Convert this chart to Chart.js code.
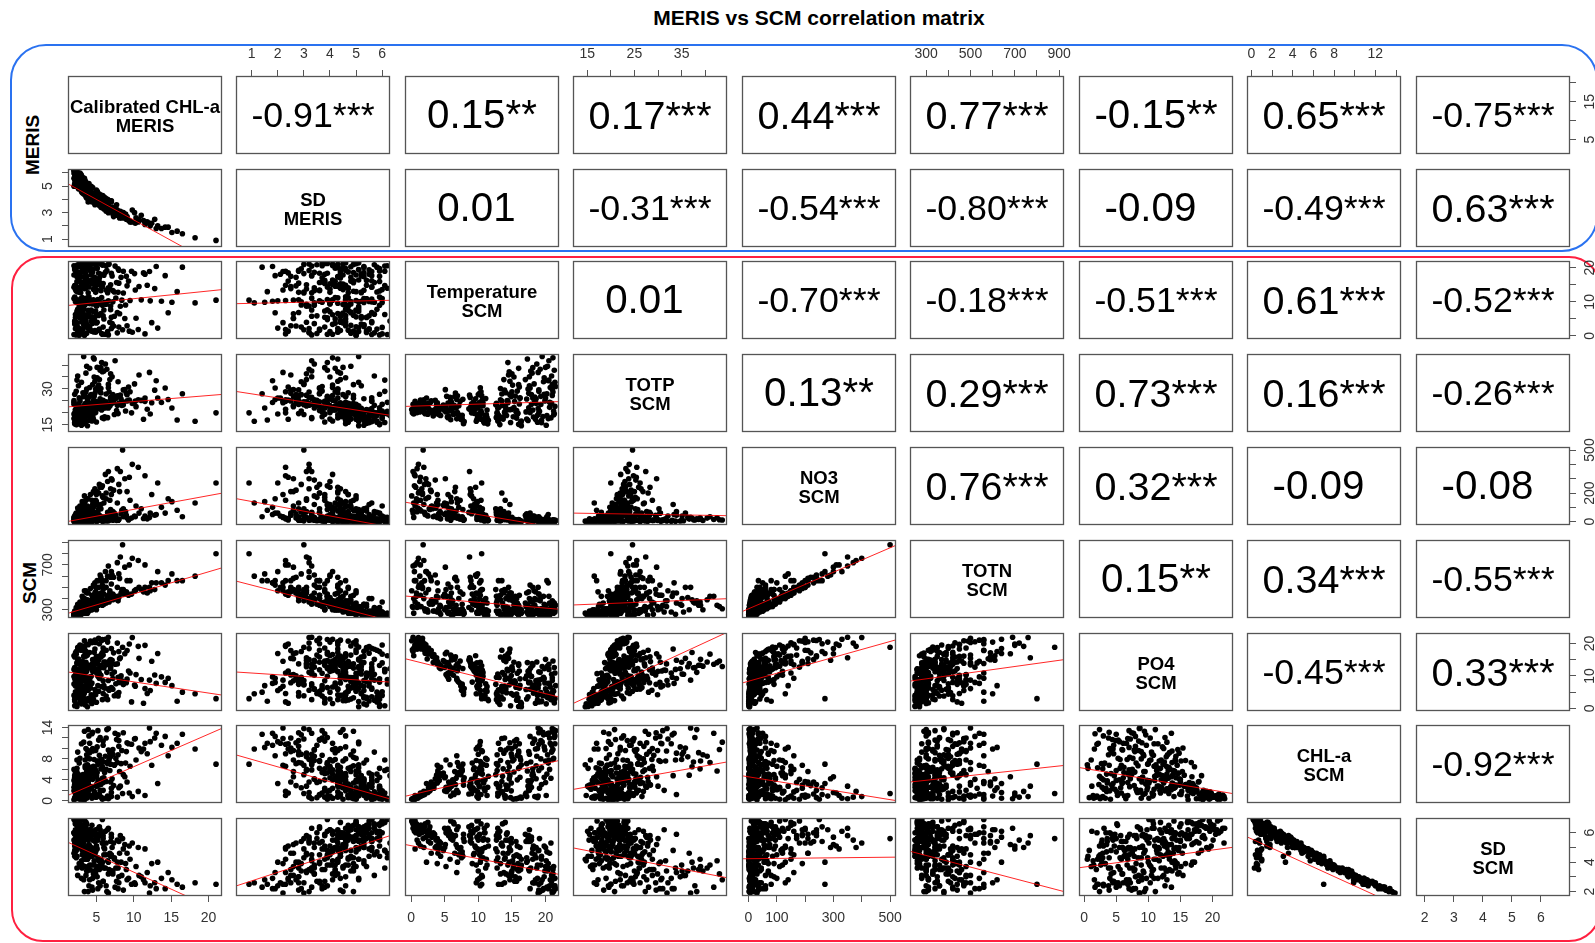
<!DOCTYPE html>
<html>
<head>
<meta charset="utf-8">
<title>MERIS vs SCM correlation matrix</title>
<script src="https://cdn.jsdelivr.net/npm/chart.js@4.4.0/dist/chart.umd.min.js"></script>
<style>
  html, body { margin: 0; padding: 0; background: #fff; }
  body {
    position: relative; width: 1595px; height: 943px; overflow: hidden;
    font-family: "Liberation Sans", Arial, Helvetica, sans-serif; color: #000;
  }
  .title {
    position: absolute; left: 0; width: 1638px; top: 6px; line-height: 24px;
    text-align: center; font-weight: bold; font-size: 21px;
  }
  .frame { position: absolute; box-sizing: border-box; border-style: solid; border-width: 2.5px; }
  .side {
    position: absolute; font-weight: bold; font-size: 19px; white-space: nowrap;
    transform: translate(-50%, -50%) rotate(-90deg);
  }
  canvas { position: absolute; }
  .cell {
    position: absolute; display: flex; align-items: center; justify-content: center;
    text-align: center; white-space: pre;
  }
  .diag { font-weight: bold; font-size: 18.5px; line-height: 19px; padding-top: 2px; box-sizing: border-box; }
</style>
</head>
<body>
<div class="title">MERIS vs SCM correlation matrix</div>
<div class="frame" style="left:10px;top:44px;width:1588px;height:208px;border-color:#2a72f0;border-radius:36px;"></div>
<div class="frame" style="left:11px;top:256px;width:1590px;height:686px;border-color:#ff2040;border-radius:32px;"></div>
<div class="side" style="left:33px;top:145px;">MERIS</div>
<div class="side" style="left:30px;top:583px;">SCM</div>
<script>
// ============================================
// DATA - one value per sampling, same order in every variable
// ============================================

const chlMeris = [
  2.3, 3.1, 4.6, 6.2, 8.5, 2.6, 3.8, 5.4, 7.1, 9.8,
  2.1, 3.4, 4.1, 11.5, 6.8, 2.9, 5.0, 13.2, 2.4, 7.8,
  3.6, 4.8, 2.0, 9.1, 5.9, 3.2, 12.4, 2.7, 4.3, 6.5,
  2.2, 3.5, 4.9, 7.4, 2.8, 5.6, 10.3, 3.0, 4.4, 6.0,
  2.5, 8.8, 3.9, 14.6, 2.3, 5.2, 3.3, 7.0, 2.6, 4.7,
  21.0, 2.4, 3.7, 5.8, 8.2, 11.0, 2.9, 4.5, 6.6, 3.1,
  18.2, 5.1, 2.2, 7.6, 3.5, 9.5, 4.0, 2.7, 6.1, 13.7,
  3.3, 5.5, 2.0, 8.9, 4.2, 2.3, 3.6, 5.3, 7.9, 2.7,
  4.6, 10.7, 3.0, 6.3, 2.1, 4.1, 8.6, 3.4, 5.9, 12.8,
  2.5, 4.8, 3.8, 7.2, 2.9, 5.7, 15.8, 3.2, 4.4, 9.3,
  2.2, 6.9, 3.9, 5.0, 11.8, 2.4, 3.5, 5.1, 7.5, 2.8,
  4.3, 10.1, 3.0, 6.4, 2.2, 4.9, 8.3, 3.3, 5.8, 12.1,
  2.6, 4.0, 7.0, 3.7, 9.7, 2.0, 5.4, 4.5, 6.7, 14.2,
  3.1, 2.5, 8.0, 4.7, 3.9, 11.3, 5.2, 2.3, 6.0, 16.5,
  2.5, 3.9, 5.7, 2.1, 4.4, 7.3, 3.0, 2.8, 6.0, 3.3,
  2.4, 4.0, 8.1, 3.7, 2.2, 5.3, 2.9, 6.9, 3.4, 4.7,
  2.6, 9.4, 3.6, 5.0, 2.6, 4.1, 3.2, 6.3, 2.3, 5.0,
  3.8, 7.2, 2.9, 4.6, 3.4, 12.2, 2.1, 5.6, 2.4, 3.7,
  5.4, 2.8, 4.2, 6.8, 3.1, 2.0, 4.9, 8.0, 3.5, 2.6,
  5.8, 3.9, 10.2, 2.3, 4.5, 6.5, 3.3, 7.7, 2.5, 3.8,
  5.5, 2.9, 4.1, 6.2, 2.1, 3.4, 4.8, 7.9, 2.7, 3.6,
  5.9, 2.3, 4.4, 9.0, 3.1, 5.1, 2.0, 6.6, 3.5, 11.5,
  2.8, 4.2, 3.3, 6.6, 2.3, 5.1, 3.7, 8.0, 2.6, 4.5,
  3.0, 10.6, 2.1, 5.8, 3.5, 4.9, 2.4, 7.0, 2.7, 4.0,
  3.2, 5.9, 2.2, 4.6, 3.6, 7.8, 2.5, 5.3, 3.1, 4.3,
  2.5, 3.6, 5.2, 2.9, 4.3, 6.9, 2.2, 3.9, 8.4, 3.2,
  5.7, 2.6, 4.8, 3.5, 15.1, 2.7, 4.0, 3.1, 5.6, 2.2,
  3.8, 6.6, 2.9, 4.7, 3.4, 9.1, 2.4, 5.0, 3.6, 7.4,
  2.8, 4.4, 2.6, 4.1, 3.0, 5.6, 2.2, 3.7, 6.3, 2.8,
  4.6, 8.6, 3.4, 2.4, 5.3, 3.9, 7.1, 2.1, 4.5, 13.0
];
const sdMeris = [
  5.9, 4.8, 4.3, 4.1, 3.0, 5.1, 4.8, 3.6, 3.4, 3.2,
  5.6, 5.0, 5.0, 2.3, 3.1, 5.4, 4.5, 2.0, 5.3, 3.2,
  4.4, 4.4, 6.2, 2.5, 3.8, 5.5, 2.2, 5.0, 4.5, 4.0,
  5.4, 4.9, 3.8, 3.3, 5.1, 4.3, 2.6, 4.8, 4.4, 3.3,
  5.7, 2.6, 4.7, 1.9, 5.5, 4.1, 4.6, 3.8, 5.6, 3.9,
  0.9, 5.3, 4.8, 3.4, 3.1, 2.8, 5.4, 4.0, 3.6, 4.7,
  1.1, 4.6, 5.6, 3.3, 4.5, 2.3, 4.6, 5.1, 3.7, 1.8,
  4.6, 4.0, 6.0, 2.9, 4.1, 5.9, 4.4, 4.1, 2.8, 5.6,
  4.0, 2.5, 4.9, 3.6, 6.1, 4.2, 3.0, 4.6, 3.8, 2.5,
  5.2, 4.3, 5.1, 3.4, 4.9, 3.9, 1.6, 4.7, 4.4, 2.4,
  6.0, 3.1, 4.7, 3.8, 2.3, 5.3, 4.9, 4.6, 3.3, 5.0,
  4.5, 3.0, 5.3, 3.2, 5.5, 4.3, 2.7, 5.1, 4.3, 2.2,
  5.2, 4.6, 3.9, 4.8, 2.3, 6.2, 4.4, 4.4, 3.2, 1.9,
  4.7, 5.7, 2.8, 4.3, 4.3, 2.4, 3.7, 5.9, 3.3, 1.4,
  5.4, 4.3, 3.5, 5.2, 4.9, 2.7, 4.6, 6.0, 4.2, 4.4,
  5.1, 5.2, 2.6, 4.1, 5.5, 3.6, 5.0, 3.9, 5.6, 3.9,
  4.8, 2.4, 5.3, 4.6, 5.2, 4.0, 5.6, 3.1, 5.0, 4.7,
  4.3, 2.9, 5.7, 4.1, 4.7, 2.0, 5.9, 3.4, 5.3, 4.2,
  3.7, 5.8, 4.8, 3.1, 4.5, 5.6, 4.0, 2.8, 5.4, 4.9,
  4.3, 3.8, 2.2, 6.2, 4.9, 3.3, 4.6, 3.6, 5.2, 4.2,
  3.9, 5.9, 4.1, 3.4, 5.5, 4.9, 3.7, 2.9, 5.3, 4.4,
  3.5, 6.1, 3.8, 2.5, 5.6, 4.5, 5.0, 3.0, 5.1, 2.1,
  5.7, 4.7, 5.3, 3.3, 6.0, 4.4, 5.0, 2.9, 5.1, 4.2,
  5.8, 2.3, 6.3, 3.9, 4.6, 4.3, 5.6, 3.2, 5.4, 4.5,
  5.0, 3.5, 6.1, 4.0, 5.2, 2.8, 5.8, 4.4, 4.6, 5.0,
  5.5, 4.3, 3.9, 5.9, 4.6, 3.2, 5.4, 5.1, 2.6, 4.8,
  4.2, 6.0, 3.6, 5.3, 1.5, 5.0, 4.4, 5.7, 3.6, 5.4,
  4.9, 3.4, 5.2, 4.0, 4.7, 2.7, 5.9, 4.5, 4.2, 3.0,
  5.6, 4.1, 5.6, 4.6, 5.1, 3.8, 5.8, 4.3, 3.7, 5.3,
  4.1, 2.8, 4.8, 6.1, 3.6, 4.5, 3.3, 5.9, 4.4, 1.8
];
const temperature = [
  0.3, 0.8, 1.2, 0.5, 1.8, 2.4, 3.1, 2.0, 3.6, 1.1,
  4.2, 0.1, 2.7, 0.6, 4.0, 1.5, 3.8, 2.3, 3.3, 0.9,
  4.4, 1.6, 0.4, 3.0, 2.6, 1.9, 3.9, 0.2, 4.3, 1.3,
  5.4, 6.1, 7.3, 5.8, 7.9, 6.6, 5.2, 7.0, 5.6, 7.6,
  6.4, 5.1, 7.5, 6.8, 5.9, 6.2, 7.8, 5.5, 6.9, 5.3,
  10.5, 9.8, 10.1, 9.0, 8.7, 10.6, 10.9, 9.4, 10.3, 11.3,
  9.7, 8.9, 10.0, 11.1, 9.2, 10.4, 11.5, 8.6, 9.9, 10.2,
  10.7, 9.6, 11.0, 9.1, 10.5, 13.2, 14.0, 15.1, 12.8, 16.2,
  13.7, 14.5, 15.6, 13.5, 14.8, 16.0, 12.6, 14.2, 15.4, 13.9,
  12.9, 14.7, 16.4, 13.3, 15.9, 14.4, 13.0, 14.1, 15.3, 16.1,
  13.6, 15.0, 12.7, 16.3, 14.9, 17.4, 18.6, 19.8, 20.5, 21.2,
  17.9, 18.3, 20.1, 19.2, 18.1, 21.0, 17.2, 19.5, 20.8, 18.9,
  17.6, 21.4, 18.4, 20.3, 19.0, 20.6, 17.0, 19.6, 21.1, 17.7,
  18.8, 20.9, 19.3, 17.3, 20.0, 18.5, 21.5, 19.1, 17.8, 20.2,
  1.0, 2.2, 0.7, 3.5, 1.4, 2.9, 4.1, 0.6, 5.0, 6.3,
  7.2, 5.7, 6.5, 3.4, 2.1, 1.7, 5.6, 7.7, 0.4, 4.8,
  6.8, 1.4, 2.8, 6.0, 10.2, 9.5, 10.8, 9.3, 10.4, 8.8,
  11.2, 10.0, 9.9, 10.6, 8.9, 10.3, 11.4, 9.7, 13.4, 14.6,
  15.8, 12.9, 16.1, 13.8, 15.2, 14.3, 12.8, 15.5, 16.3, 13.1,
  14.6, 15.8, 13.5, 14.0, 16.0, 12.7, 14.9, 15.7, 18.2, 19.9,
  21.3, 17.5, 20.7, 18.7, 19.4, 21.0, 17.1, 19.7, 20.4, 18.0,
  20.9, 19.0, 21.3, 17.5, 18.9, 20.0, 17.9, 21.0, 19.4, 18.1,
  0.9, 1.7, 3.2, 0.3, 2.5, 4.0, 0.8, 2.6, 1.3, 3.7,
  2.0, 1.9, 4.4, 0.5, 3.0, 1.1, 3.9, 2.2, 5.5, 6.7,
  7.4, 5.9, 6.3, 7.1, 5.2, 6.9, 7.8, 6.0, 5.0, 7.6,
  10.1, 9.6, 10.7, 9.0, 10.4, 8.8, 10.9, 10.0, 10.5, 9.4,
  11.3, 9.8, 10.2, 11.0, 9.9, 13.0, 14.4, 15.7, 13.3, 14.9,
  16.2, 14.1, 12.7, 15.3, 13.9, 14.7, 16.0, 13.6, 15.0, 12.9,
  14.4, 16.4, 17.7, 19.3, 21.4, 18.1, 20.2, 17.4, 20.6, 18.6,
  21.1, 19.0, 17.2, 20.5, 18.4, 21.2, 17.6, 19.8, 18.8, 20.4
];
const totp = [
  20.5, 21.8, 23.4, 22.1, 24.6, 19.8, 21.0, 22.7, 25.3, 23.9,
  19.2, 21.4, 20.2, 24.8, 22.9, 20.9, 23.6, 26.2, 18.7, 23.2,
  21.6, 22.4, 19.5, 25.0, 21.9, 20.6, 24.2, 20.0, 22.3, 23.0,
  18.3, 21.5, 24.8, 26.5, 16.4, 28.3, 22.6, 19.4, 20.7, 17.6,
  23.2, 29.7, 18.8, 25.6, 17.1, 22.0, 15.5, 24.1, 20.1, 26.9,
  20.0, 17.2, 19.6, 23.8, 27.4, 25.2, 15.8, 21.1, 30.5, 18.0,
  16.5, 22.5, 19.0, 26.0, 20.3, 28.8, 16.9, 21.7, 18.4, 24.3,
  23.0, 25.9, 17.6, 20.8, 27.2, 15.1, 22.8, 31.6, 19.7, 26.3,
  17.4, 35.8, 20.5, 27.9, 16.0, 38.6, 23.4, 18.9, 24.7, 29.5,
  21.9, 33.2, 14.6, 25.5, 19.8, 41.0, 17.0, 28.4, 22.2, 30.8,
  18.2, 36.3, 24.0, 16.2, 21.5, 16.8, 23.9, 34.7, 41.8, 19.1,
  27.6, 32.1, 14.8, 38.2, 21.2, 29.9, 25.8, 43.6, 17.9, 36.9,
  31.3, 22.7, 26.6, 39.5, 20.0, 24.4, 33.9, 18.5, 28.7, 30.4,
  16.1, 35.4, 23.5, 42.5, 26.2, 17.3, 31.0, 20.7, 37.5, 28.0,
  21.2, 22.0, 23.1, 19.9, 21.7, 24.3, 20.4, 20.8, 22.8, 19.3,
  17.8, 21.3, 26.8, 21.1, 19.6, 22.6, 18.6, 25.7, 20.3, 23.3,
  17.5, 25.4, 20.7, 24.4, 18.7, 22.8, 16.3, 24.6, 20.9, 21.4,
  19.2, 27.6, 17.9, 25.3, 22.2, 19.5, 15.4, 23.5, 17.7, 21.3,
  29.1, 16.6, 23.7, 33.9, 18.4, 25.1, 20.1, 27.0, 15.7, 22.4,
  37.2, 19.4, 24.9, 20.6, 31.8, 18.0, 26.8, 21.0, 18.3, 25.0,
  37.8, 22.1, 30.6, 40.4, 15.9, 27.3, 20.4, 33.0, 17.6, 36.6,
  24.0, 29.0, 19.6, 28.2, 21.8, 39.0, 23.6, 31.9, 16.9, 26.2,
  20.1, 22.5, 20.5, 23.6, 19.4, 22.2, 21.2, 24.0, 20.4, 21.8,
  20.0, 25.5, 18.9, 22.9, 21.0, 22.0, 19.6, 23.8, 18.0, 21.9,
  17.3, 25.2, 19.8, 23.0, 20.4, 27.1, 16.1, 22.8, 20.9, 19.0,
  18.2, 21.8, 24.2, 20.0, 17.3, 26.4, 16.7, 22.9, 23.1, 19.8,
  21.2, 23.6, 28.2, 18.6, 22.0, 19.0, 24.2, 17.8, 30.2, 21.4,
  26.1, 22.0, 18.1, 35.0, 20.2, 27.6, 15.2, 23.1, 28.8, 19.3,
  24.9, 16.6, 20.1, 26.9, 32.8, 38.9, 18.9, 30.0, 22.3, 25.9,
  43.0, 29.6, 17.4, 33.7, 24.6, 20.8, 35.1, 27.8, 19.0, 33.4
];
const no3 = [
  60, 140, 210, 330, 500, 45, 110, 260, 290, 400,
  25, 180, 90, 320, 150, 75, 130, 270, 35, 370,
  60, 230, 30, 210, 170, 120, 190, 80, 70, 280,
  20, 80, 150, 60, 15, 240, 110, 40, 95, 30,
  55, 300, 25, 160, 10, 70, 20, 190, 35, 125,
  270, 15, 40, 180, 350, 90, 5, 120, 60, 20,
  130, 210, 25, 45, 85, 150, 10, 65, 30, 100,
  50, 240, 8, 70, 35, 5, 150, 20, 10, 3,
  40, 60, 8, 200, 2, 15, 90, 25, 5, 45,
  30, 120, 4, 10, 3, 35, 80, 55, 6, 12,
  18, 30, 70, 2, 20, 3, 10, 5, 15, 2,
  25, 40, 1, 20, 5, 8, 55, 12, 3, 30,
  15, 4, 35, 8, 25, 2, 45, 6, 10, 60,
  3, 7, 18, 28, 4, 22, 9, 1, 14, 35,
  95, 160, 240, 40, 150, 220, 55, 110, 130, 45,
  20, 65, 210, 100, 50, 200, 30, 85, 130, 115,
  25, 310, 85, 140, 30, 95, 12, 160, 40, 190,
  15, 70, 22, 55, 110, 60, 6, 120, 8, 30,
  12, 20, 5, 70, 3, 25, 50, 15, 2, 40,
  25, 4, 35, 14, 7, 65, 10, 8, 2, 6,
  12, 20, 4, 25, 1, 5, 30, 10, 3, 18,
  7, 9, 2, 45, 5, 20, 11, 6, 1, 40,
  70, 190, 90, 350, 40, 120, 160, 260, 85, 95,
  65, 380, 20, 250, 105, 200, 30, 300, 25, 75,
  18, 170, 30, 100, 60, 130, 10, 90, 50, 35,
  20, 75, 40, 55, 12, 230, 8, 45, 80, 100,
  25, 35, 65, 15, 140, 15, 40, 3, 90, 20,
  5, 30, 50, 10, 35, 25, 2, 60, 8, 45,
  12, 1, 4, 8, 3, 28, 1, 15, 5, 10,
  14, 35, 6, 4, 20, 2, 40, 3, 9, 50
];
const totn = [
  320, 420, 520, 640, 880, 300, 390, 560, 610, 760,
  280, 470, 360, 700, 470, 330, 420, 640, 290, 720,
  330, 540, 270, 560, 480, 400, 540, 330, 340, 600,
  280, 350, 460, 420, 270, 590, 480, 300, 370, 350,
  310, 680, 300, 560, 260, 380, 290, 530, 290, 420,
  800, 270, 310, 520, 770, 480, 260, 410, 430, 280,
  600, 560, 280, 400, 350, 560, 290, 320, 360, 540,
  310, 610, 250, 440, 330, 260, 470, 380, 380, 280,
  330, 500, 290, 560, 250, 340, 480, 300, 350, 480,
  280, 450, 270, 390, 270, 420, 560, 330, 310, 430,
  260, 410, 360, 300, 450, 260, 290, 350, 420, 270,
  320, 470, 260, 380, 250, 330, 450, 310, 340, 500,
  280, 300, 400, 300, 440, 250, 360, 310, 370, 520,
  270, 280, 410, 340, 300, 460, 340, 260, 370, 560,
  350, 450, 560, 290, 430, 590, 310, 370, 440, 300,
  270, 330, 580, 380, 290, 500, 280, 440, 400, 420,
  270, 700, 350, 450, 280, 380, 270, 500, 290, 500,
  300, 440, 270, 350, 380, 470, 250, 450, 260, 300,
  360, 270, 310, 450, 280, 260, 340, 420, 270, 290,
  390, 300, 470, 260, 330, 420, 300, 400, 260, 300,
  360, 270, 310, 390, 250, 290, 330, 420, 260, 300,
  350, 260, 310, 460, 270, 340, 250, 380, 280, 500,
  320, 490, 350, 690, 280, 410, 450, 620, 330, 370,
  310, 740, 260, 560, 380, 500, 280, 640, 270, 340,
  280, 500, 260, 400, 320, 500, 260, 390, 300, 310,
  270, 340, 380, 300, 300, 590, 260, 330, 480, 370,
  360, 280, 400, 280, 620, 270, 320, 270, 430, 260,
  300, 400, 290, 340, 300, 450, 250, 360, 300, 420,
  270, 300, 260, 310, 280, 370, 250, 300, 360, 270,
  330, 440, 280, 260, 340, 300, 400, 250, 310, 540
];
const po4 = [
  17.5, 19.2, 20.5, 21.3, 18.8, 15.2, 16.4, 19.9, 14.8, 21.8,
  12.6, 20.8, 17.2, 19.4, 13.9, 18.3, 15.6, 16.9, 14.1, 20.1,
  13.2, 21.0, 16.2, 17.8, 18.6, 19.0, 14.5, 18.0, 12.9, 20.4,
  9.8, 12.4, 14.6, 11.2, 6.1, 15.9, 10.4, 8.3, 13.5, 7.0,
  15.1, 16.8, 5.6, 9.3, 10.7, 12.0, 4.3, 14.0, 11.6, 17.3,
  3.0, 6.8, 9.5, 12.7, 15.6, 8.9, 3.1, 11.4, 14.2, 5.2,
  4.5, 13.8, 10.1, 7.6, 12.1, 10.9, 2.4, 14.9, 6.2, 9.7,
  11.0, 16.2, 4.0, 8.1, 13.1, 1.2, 16.1, 11.7, 3.8, 9.1,
  2.9, 15.4, 6.5, 17.9, 0.8, 13.3, 7.4, 4.8, 8.5, 10.3,
  10.6, 18.3, 0.5, 5.9, 3.3, 16.7, 2.2, 14.4, 7.8, 11.5,
  5.1, 12.8, 9.6, 1.9, 4.6, 3.6, 8.4, 12.2, 13.6, 5.3,
  9.9, 7.2, 1.4, 11.1, 6.9, 4.2, 10.0, 12.9, 2.7, 8.7,
  11.8, 3.0, 6.4, 13.0, 2.0, 7.5, 9.2, 3.9, 5.6, 8.0,
  2.6, 10.5, 4.9, 14.1, 6.0, 1.6, 7.0, 4.4, 12.5, 5.0,
  18.7, 19.6, 20.9, 15.8, 20.2, 17.1, 13.6, 19.5, 14.3, 10.2,
  7.9, 12.9, 15.3, 16.6, 17.0, 21.6, 9.0, 12.3, 18.5, 14.7,
  8.8, 19.8, 17.6, 16.0, 7.1, 12.5, 3.6, 13.4, 10.8, 14.1,
  5.8, 9.2, 8.7, 11.7, 13.0, 5.5, 2.8, 10.2, 3.5, 7.2,
  10.8, 2.0, 6.2, 14.8, 4.1, 12.0, 5.0, 8.0, 1.1, 9.5,
  17.2, 3.0, 6.8, 8.9, 13.7, 2.7, 10.1, 4.4, 4.7, 7.8,
  12.6, 8.1, 6.6, 14.3, 2.3, 9.4, 5.8, 9.6, 3.2, 13.8,
  4.6, 11.3, 1.7, 7.9, 6.3, 15.1, 9.8, 8.6, 2.1, 6.1,
  18.2, 20.7, 16.0, 21.9, 16.7, 14.0, 19.7, 17.5, 18.9, 15.0,
  17.9, 19.1, 12.2, 21.2, 16.8, 20.3, 13.7, 18.4, 10.9, 13.1,
  6.9, 16.4, 11.9, 12.8, 14.2, 13.7, 5.0, 14.9, 12.6, 7.5,
  7.8, 11.3, 9.9, 13.2, 4.2, 15.0, 3.4, 12.4, 8.5, 13.6,
  6.7, 14.0, 11.9, 5.5, 7.0, 5.7, 9.3, 2.5, 15.8, 8.2,
  7.1, 6.0, 4.5, 14.2, 6.8, 9.0, 0.6, 11.0, 12.4, 3.9,
  11.6, 1.5, 5.9, 8.9, 10.9, 13.3, 3.5, 11.4, 3.8, 8.6,
  14.6, 7.4, 2.9, 12.0, 5.3, 2.4, 10.6, 9.1, 4.0, 7.7
];
const chlScm = [
  0.4, 0.6, 0.9, 0.5, 1.4, 1.8, 2.6, 1.2, 4.2, 0.8,
  3.9, 0.3, 2.2, 1.0, 5.8, 1.1, 4.9, 3.3, 2.9, 0.7,
  6.4, 1.3, 0.2, 3.6, 2.0, 1.5, 6.8, 0.4, 5.1, 0.9,
  2.1, 3.4, 5.2, 6.9, 4.4, 3.1, 7.8, 1.6, 2.7, 5.9,
  1.2, 4.6, 6.2, 8.6, 0.9, 4.0, 3.0, 2.4, 5.0, 1.8,
  7.0, 3.5, 5.6, 4.1, 2.8, 9.4, 2.2, 6.3, 7.5, 1.0,
  9.9, 3.3, 0.5, 8.1, 2.5, 6.6, 4.7, 1.3, 5.4, 10.6,
  3.9, 2.0, 1.9, 7.2, 5.9, 2.8, 0.9, 7.6, 8.8, 4.5,
  6.1, 10.1, 0.4, 3.7, 0.6, 9.2, 5.0, 2.2, 11.4, 12.0,
  1.5, 4.8, 6.9, 9.8, 0.5, 7.3, 11.0, 3.0, 5.5, 10.9,
  1.7, 8.4, 3.2, 0.7, 9.0, 3.8, 6.7, 10.3, 12.9, 8.1,
  2.6, 11.8, 1.0, 13.6, 5.3, 9.6, 7.1, 11.2, 4.3, 13.9,
  2.0, 12.4, 0.8, 8.8, 10.8, 6.0, 1.2, 13.1, 7.9, 12.3,
  0.6, 9.3, 11.5, 5.7, 3.5, 9.9, 13.4, 2.4, 7.4, 12.7,
  0.5, 1.7, 0.6, 3.1, 0.8, 2.9, 4.6, 0.3, 4.4, 3.8,
  5.5, 2.3, 5.6, 2.4, 1.4, 1.1, 3.6, 7.0, 0.2, 5.3,
  2.0, 1.5, 1.9, 2.8, 2.7, 4.4, 3.4, 6.0, 1.2, 3.0,
  6.8, 8.9, 1.7, 5.1, 2.3, 11.3, 2.6, 7.7, 1.8, 4.2,
  8.7, 0.9, 6.4, 9.1, 0.3, 2.6, 5.8, 10.4, 7.8, 1.4,
  6.5, 4.0, 11.9, 0.5, 9.5, 7.1, 3.4, 11.7, 4.8, 9.7,
  12.1, 2.2, 11.0, 8.5, 3.1, 13.3, 1.5, 12.6, 7.2, 4.9,
  10.6, 5.8, 12.8, 9.4, 0.9, 7.6, 3.9, 13.8, 6.3, 11.0,
  0.6, 1.0, 2.7, 0.4, 1.6, 5.4, 0.5, 2.5, 0.9, 4.1,
  1.3, 1.8, 4.8, 0.3, 2.3, 0.7, 3.4, 1.6, 2.2, 4.3,
  5.0, 3.5, 1.5, 6.6, 2.6, 7.3, 3.9, 3.0, 1.9, 5.7,
  2.9, 4.9, 7.0, 1.4, 5.2, 3.6, 2.4, 3.8, 9.6, 2.1,
  7.9, 0.8, 6.2, 4.0, 10.2, 2.5, 5.6, 0.4, 7.7, 1.9,
  8.3, 9.7, 3.3, 7.9, 1.0, 11.1, 6.2, 4.7, 10.0, 6.8,
  2.8, 0.5, 3.3, 8.0, 10.9, 6.1, 5.1, 2.8, 12.0, 4.2,
  9.8, 13.0, 0.8, 7.8, 11.6, 13.6, 8.9, 4.5, 10.0, 12.9
];
const sdScm = [
  6.6, 6.3, 5.9, 6.1, 5.6, 6.0, 5.7, 6.4, 5.0, 5.3,
  5.4, 6.8, 6.2, 4.9, 4.6, 6.5, 5.1, 4.0, 6.0, 5.5,
  4.4, 6.0, 6.9, 4.6, 5.8, 6.3, 3.9, 6.7, 5.0, 6.2,
  6.2, 5.6, 4.9, 4.2, 5.4, 5.8, 3.7, 6.4, 6.0, 4.5,
  6.6, 5.2, 4.3, 3.3, 6.8, 5.5, 5.9, 5.9, 5.0, 6.1,
  2.5, 5.7, 4.8, 5.3, 5.8, 3.0, 6.3, 4.6, 4.0, 6.5,
  2.6, 5.6, 6.9, 3.6, 6.0, 4.2, 5.1, 6.4, 4.9, 2.9,
  5.5, 6.2, 6.0, 3.9, 4.7, 6.1, 6.7, 4.1, 3.6, 5.0,
  4.6, 3.1, 5.4, 5.3, 4.8, 3.5, 4.9, 5.9, 2.7, 2.6,
  6.3, 4.8, 4.2, 3.2, 3.9, 3.8, 2.5, 5.5, 4.4, 2.9,
  6.6, 3.4, 5.8, 3.5, 3.3, 5.4, 4.3, 3.0, 2.3, 3.7,
  5.7, 2.6, 4.1, 2.0, 4.9, 3.2, 4.0, 2.8, 5.3, 1.9,
  6.2, 2.4, 4.5, 3.4, 2.5, 4.6, 5.9, 2.1, 3.5, 2.2,
  3.8, 3.1, 2.6, 4.1, 5.0, 2.8, 2.2, 5.6, 3.6, 2.3,
  6.4, 6.1, 6.0, 5.9, 6.5, 5.3, 5.2, 6.8, 5.0, 5.7,
  4.9, 6.1, 4.6, 5.9, 6.6, 6.3, 5.8, 4.4, 6.9, 4.8,
  6.2, 5.1, 6.4, 5.6, 5.9, 5.1, 5.6, 4.5, 6.6, 5.8,
  4.2, 3.4, 6.3, 4.9, 6.1, 2.4, 5.5, 3.8, 5.2, 5.0,
  3.5, 6.0, 4.4, 3.3, 3.6, 6.0, 4.7, 3.0, 3.7, 5.7,
  4.0, 5.1, 2.5, 4.3, 3.4, 4.1, 5.3, 2.7, 5.1, 3.4,
  2.4, 5.8, 2.8, 3.6, 4.4, 2.0, 5.4, 2.2, 3.9, 4.6,
  2.7, 4.8, 2.3, 3.5, 4.8, 3.7, 5.5, 1.9, 4.2, 2.6,
  6.5, 6.2, 5.8, 6.3, 6.7, 4.9, 6.6, 5.4, 6.4, 5.5,
  6.1, 5.0, 5.3, 6.9, 5.9, 6.2, 5.6, 5.7, 6.3, 5.2,
  5.0, 5.6, 6.7, 4.5, 6.0, 4.0, 5.6, 5.9, 6.3, 4.7,
  5.8, 5.0, 4.3, 6.5, 4.8, 5.4, 6.0, 5.5, 3.1, 6.2,
  3.8, 6.8, 4.5, 5.0, 2.8, 5.8, 4.6, 4.5, 3.9, 5.6,
  3.6, 3.2, 5.5, 3.8, 4.2, 2.8, 4.4, 5.1, 3.1, 4.3,
  5.5, 3.8, 5.4, 3.8, 2.9, 4.2, 4.7, 5.6, 2.4, 5.0,
  3.2, 2.1, 4.3, 3.6, 2.6, 2.0, 3.4, 5.1, 2.9, 2.2
];

const series = [chlMeris, sdMeris, temperature, totp, no3, totn, po4, chlScm, sdScm];

const varLabels = [
  'Calibrated CHL-a\nMERIS', 'SD\nMERIS', 'Temperature\nSCM', 'TOTP\nSCM', 'NO3\nSCM',
  'TOTN\nSCM', 'PO4\nSCM', 'CHL-a\nSCM', 'SD\nSCM'
];

// axis limits (R pads the data range by 4%)
const axisRange = [
  [1.2, 21.8], [0.4, 6.3], [-0.9, 22], [12, 44.6], [-23, 521],
  [227, 922], [-0.8, 23.2], [-0.42, 14.48], [1.7, 7.0]
];
const tickValues = [
  [5, 10, 15, 20], [1, 2, 3, 4, 5, 6], [0, 5, 10, 15, 20], [15, 20, 25, 30, 35, 40],
  [0, 100, 200, 300, 400, 500], [300, 400, 500, 600, 700, 800, 900], [0, 5, 10, 15, 20],
  [0, 2, 4, 6, 8, 10, 12, 14], [2, 3, 4, 5, 6]
];
// labels that survive R's overlap check, horizontal and vertical axes
const xTickLabels = [
  [5, 10, 15, 20], [1, 2, 3, 4, 5, 6], [0, 5, 10, 15, 20], [15, 25, 35],
  [0, 100, 300, 500], [300, 500, 700, 900], [0, 5, 10, 15, 20], [0, 2, 4, 6, 8, 12], [2, 3, 4, 5, 6]
];
const yTickLabels = [
  [5, 15], [1, 3, 5], [0, 10, 20], [15, 30], [0, 200, 500], [300, 700], [0, 10, 20], [0, 4, 8, 14], [2, 4, 6]
];

// upper triangle, row by row
const corrRows = [
  ['-0.91***', '0.15**', '0.17***', '0.44***', '0.77***', '-0.15**', '0.65***', '-0.75***'],
  ['0.01', '-0.31***', '-0.54***', '-0.80***', '-0.09', '-0.49***', '0.63***'],
  ['0.01', '-0.70***', '-0.18***', '-0.51***', '0.61***', '-0.52***'],
  ['0.13**', '0.29***', '0.73***', '0.16***', '-0.26***'],
  ['0.76***', '0.32***', '-0.09', '-0.08'],
  ['0.15**', '0.34***', '-0.55***'],
  ['-0.45***', '0.33***'],
  ['-0.92***']
];

// red lm lines: [row, col, y at x-min, y at x-max]
const fitLines = [
  [1, 0, 5.18, -1.22],
  [2, 0, 8.95, 13.6], [2, 1, 9.47, 10.46],
  [3, 0, 22.5, 27.7], [3, 1, 28.95, 19.0], [3, 2, 22.7, 24.7],
  [4, 0, 2.0, 199], [4, 1, 161, -37], [4, 2, 136, -45], [4, 3, 60, 42],
  [5, 0, 269, 674], [5, 1, 556, 202], [5, 2, 423, 305], [5, 3, 343, 399], [5, 4, 284, 875],
  [6, 0, 11.2, 4.1], [6, 1, 11.2, 8.1], [6, 2, 15.3, 3.5], [6, 3, 1.5, 23.4], [6, 4, 7.8, 21.1], [6, 5, 8.4, 15.0],
  [7, 0, 1.04, 13.85], [7, 1, 8.77, 0.36], [7, 2, 0.86, 7.70], [7, 3, 2.17, 7.42], [7, 4, 4.78, 0.04], [7, 5, 3.59, 6.75], [7, 6, 6.36, 1.37],
  [8, 0, 5.35, 0.6], [8, 1, 2.38, 5.80], [8, 2, 5.2, 3.17], [8, 3, 4.97, 2.94], [8, 4, 4.23, 4.34], [8, 5, 4.74, 2.0], [8, 6, 3.62, 5.01], [8, 7, 5.72, 0.95]
];

// ============================================
// LAYOUT
// ============================================

const PX0 = 67.7, PY0 = 75.7, PDX = 168.5, PDY = 92.8;
const PW = 154, PH = 78;
const M = 44;      // canvas margin round each panel
const AX = 40;     // room given to an axis
const TICK_LEN = 6;
const FONT = '"Liberation Sans", Arial, Helvetica, sans-serif';
const TICK_FONT_SIZE = 14;
const CORR_MAX_SIZE = 40.3;
const POINT_RADIUS = 2.8;

const measureCtx = document.createElement('canvas').getContext('2d');
function textWidth(text, font) {
  measureCtx.font = font;
  return measureCtx.measureText(text).width;
}

// value + stars (a blank when not significant), shrunk only if wider than 80% of the cell
function corrStyle(label) {
  const m = label.match(/^(-?[0-9.]+)(\**)$/);
  const text = m[1] + (m[2] || ' ');
  const unit = textWidth(text, '100px ' + FONT) / 100;
  return { text: text, size: Math.min(CORR_MAX_SIZE, 0.8 * PW / unit) };
}

const boxPlugin = {
  id: 'panelBox',
  afterDraw(chart) {
    const a = chart.chartArea;
    const ctx = chart.ctx;
    ctx.save();
    ctx.strokeStyle = '#555';
    ctx.lineWidth = 1.3;
    ctx.strokeRect(a.left + 0.5, a.top + 0.5, a.right - a.left - 1, a.bottom - a.top - 1);
    ctx.restore();
  }
};

function fixAxisSize(scale) {
  if (!scale.options.display) return;
  if (scale.isHorizontal()) scale.height = AX; else scale.width = AX;
  scale.paddingLeft = 0; scale.paddingRight = 0;
  scale.paddingTop = 0; scale.paddingBottom = 0;
}

function axisOptions(v, horizontal, position, shown) {
  const labels = horizontal ? xTickLabels[v] : yTickLabels[v];
  const opts = {
    type: 'linear',
    position: position,
    display: shown,
    min: axisRange[v][0],
    max: axisRange[v][1],
    afterBuildTicks: s => { s.ticks = tickValues[v].map(t => ({ value: t })); },
    afterFit: fixAxisSize,
    border: { display: false },
    grid: { display: true, drawOnChartArea: false, drawTicks: true, tickLength: TICK_LEN, color: '#555', lineWidth: 1 },
    ticks: {
      autoSkip: false,
      color: '#333',
      font: { family: FONT, size: TICK_FONT_SIZE },
      callback: value => labels.includes(value) ? String(value) : ''
    }
  };
  if (horizontal) {
    opts.ticks.maxRotation = 0;
    opts.ticks.minRotation = 0;
    opts.ticks.padding = 7.5;
  } else {
    // R writes y labels parallel to the axis
    const widest = Math.max(...labels.map(l => textWidth(String(l), TICK_FONT_SIZE + 'px ' + FONT)));
    opts.ticks.minRotation = 90;
    opts.ticks.maxRotation = 90;
    opts.ticks.crossAlign = 'center';
    opts.ticks.padding = 20 - TICK_LEN - widest / 2;
  }
  return opts;
}

function addCell(left, top, text, cls, fontSize) {
  const div = document.createElement('div');
  div.className = 'cell' + (cls ? ' ' + cls : '');
  div.style.left = left + 'px';
  div.style.top = top + 'px';
  div.style.width = PW + 'px';
  div.style.height = PH + 'px';
  if (fontSize) div.style.fontSize = fontSize + 'px';
  div.textContent = text;
  document.body.appendChild(div);
}

function makePanel(r, c) {
  const left = Math.round(PX0 + PDX * c);
  const top = Math.round(PY0 + PDY * r);
  const hasTop = r === 0 && c % 2 === 1;
  const hasBottom = r === 8 && c % 2 === 0;
  const hasLeft = c === 0 && r % 2 === 1;
  const hasRight = c === 8 && r % 2 === 0;

  const canvas = document.createElement('canvas');
  canvas.width = PW + 2 * M;
  canvas.height = PH + 2 * M;
  canvas.style.left = (left - M) + 'px';
  canvas.style.top = (top - M) + 'px';
  document.body.appendChild(canvas);

  const datasets = [];
  if (r > c) {
    const line = fitLines.find(f => f[0] === r && f[1] === c);
    datasets.push({
      type: 'line',
      data: [{ x: axisRange[c][0], y: line[2] }, { x: axisRange[c][1], y: line[3] }],
      borderColor: 'rgba(255, 0, 0, 0.85)',
      borderWidth: 1,
      pointRadius: 0,
      clip: 0
    });
    datasets.push({
      type: 'scatter',
      data: series[c].map((x, i) => ({ x: x, y: series[r][i] })),
      pointRadius: POINT_RADIUS,
      pointBackgroundColor: '#000',
      pointBorderWidth: 0,
      clip: 0
    });
  }

  new Chart(canvas, {
    type: 'scatter',
    data: { datasets: datasets },
    options: {
      responsive: false,
      animation: false,
      events: [],
      layout: {
        autoPadding: false,
        padding: {
          left: hasLeft ? M - AX : M,
          right: hasRight ? M - AX : M,
          top: hasTop ? M - AX : M,
          bottom: hasBottom ? M - AX : M
        }
      },
      plugins: { legend: { display: false }, tooltip: { enabled: false } },
      scales: {
        x: axisOptions(c, true, hasTop ? 'top' : 'bottom', hasTop || hasBottom),
        y: axisOptions(r, false, hasRight ? 'right' : 'left', hasLeft || hasRight)
      }
    },
    plugins: [boxPlugin]
  });

  if (r === c) {
    addCell(left, top, varLabels[r], 'diag');
  } else if (c > r) {
    const st = corrStyle(corrRows[r][c - r - 1]);
    addCell(left, top, st.text, '', st.size);
  }
}

for (let r = 0; r < 9; r++) {
  for (let c = 0; c < 9; c++) {
    makePanel(r, c);
  }
}
</script>
</body>
</html>
